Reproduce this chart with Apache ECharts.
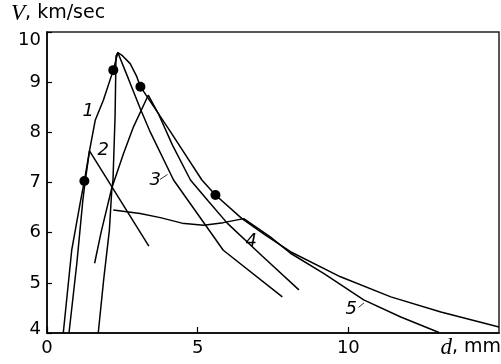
<!DOCTYPE html>
<html><head><meta charset="utf-8">
<script src="https://cdn.jsdelivr.net/npm/echarts@6/dist/echarts.min.js"></script>
<style>html,body{margin:0;padding:0;background:#fff}#c{width:501px;height:364px}</style>
</head><body><div id="c"></div>
<script>
const xTickLabels = ['0', '5', '10'];
const yTickLabels = ['4', '5', '6', '7', '8', '9', '10'];

const curve1 = [[0.54,4.00],[0.82,5.65],[1.10,6.59],[1.24,7.03],[1.41,7.63],[1.60,8.24],[1.87,8.64],[2.20,9.24],[2.35,9.59],
  [2.48,9.54],[2.76,9.37],[2.98,9.11],[3.10,8.91],[4.09,8.02],[5.14,7.05],[5.59,6.75],[6.47,6.28],[7.25,5.95],[8.08,5.62],
  [9.74,5.12],[11.41,4.72],[13.07,4.42],[15.0,4.12]];
const curve2 = [[0.73,4.00],[0.99,5.39],[1.19,6.65],[1.26,6.99],[1.41,7.63],[3.38,5.73]];
const curve3 = [[1.70,4.00],[1.88,5.06],[2.07,6.05],[2.15,6.85],[2.19,7.05],[2.26,8.34],[2.29,9.52],[2.35,9.59],
  [2.70,9.07],[3.09,8.48],[3.40,8.04],[4.20,7.05],[5.85,5.65],[7.81,4.72]];
const curve4 = [[1.58,5.39],[1.80,6.02],[2.15,6.89],[2.54,7.58],[2.87,8.11],[3.36,8.74],[3.69,8.38],[4.16,7.75],
  [4.76,7.05],[5.35,6.63],[5.98,6.19],[7.15,5.53],[8.36,4.86]];
const curve5 = [[2.20,6.45],[3.09,6.38],[3.76,6.30],[4.48,6.19],[5.20,6.15],[5.85,6.20],[6.53,6.28],[7.42,5.91],
  [8.08,5.59],[9.18,5.19],[10.51,4.66],[11.74,4.32],[13.01,4.01]];
const dots = [[1.24,7.03],[2.20,9.24],[3.10,8.91],[5.59,6.75]];
const curveLabels = [[1.37,8.41,'1'],[1.87,7.65,'2'],[3.59,7.05,'3'],[6.78,5.82,'4'],[10.10,4.48,'5']];
const leader3 = [[3.75,7.06],[4.0,7.16]];
const leader5 = [[10.34,4.51],[10.52,4.60]];

const SANS = 'DejaVu Sans';
const chart = echarts.init(document.getElementById('c'), null, {renderer: 'canvas'});

function lineSeries(data, w) {
  return {type: 'line', data: data, symbol: 'none', smooth: false, silent: true,
    lineStyle: {color: '#000', width: w || 1.5}, z: 3};
}

chart.setOption({
  animation: false,
  backgroundColor: '#fff',
  grid: {left: 47, right: 2, top: 32, bottom: 31, show: true, borderColor: '#222', borderWidth: 1.5},
  xAxis: {
    type: 'value', min: 0, max: 15, interval: 5,
    axisLine: {show: true, lineStyle: {color: '#000', width: 1.5}},
    axisTick: {show: true, inside: true, length: 6, lineStyle: {color: '#000', width: 1.2}},
    splitLine: {show: false},
    axisLabel: {showMaxLabel: false, color: '#000', fontFamily: SANS, fontSize: 18, margin: 6,
      formatter: v => { const i = v / 5; return xTickLabels[i] !== undefined ? xTickLabels[i] : ''; }}
  },
  yAxis: {
    type: 'value', min: 4, max: 10, interval: 1,
    axisLine: {show: true, lineStyle: {color: '#000', width: 1.5}},
    axisTick: {show: true, inside: true, length: 5, lineStyle: {color: '#000', width: 1.2}},
    splitLine: {show: false},
    axisLabel: {color: '#000', fontFamily: SANS, fontSize: 18, margin: 6,
      formatter: v => {
        const s = yTickLabels[v - 4];
        if (v === 10) return '{t|' + s + '}';
        if (v === 4) return '{b|' + s + '}';
        return s;
      },
      rich: {
        t: {fontFamily: SANS, fontSize: 18, color: '#000', padding: [16, 0, 0, 0]},
        b: {fontFamily: SANS, fontSize: 18, color: '#000', padding: [0, 0, 8, 0]}
      }
    }
  },
  graphic: [
    {type: 'text', left: 11, top: 2, style: {
      text: '{v|V}{s|, km/sec}',
      rich: {
        v: {fontFamily: 'Liberation Serif', fontStyle: 'italic', fontSize: 23, fill: '#000'},
        s: {fontFamily: SANS, fontSize: 19, fill: '#000'}
      }}},
    {type: 'text', right: 0, top: 336, style: {
      text: '{v|d}{s|, mm}',
      rich: {
        v: {fontFamily: 'Liberation Serif', fontStyle: 'italic', fontSize: 23, fill: '#000'},
        s: {fontFamily: SANS, fontSize: 19, fill: '#000'}
      }}}
  ],
  series: [
    lineSeries(curve1), lineSeries(curve2), lineSeries(curve3), lineSeries(curve4), lineSeries(curve5),
    lineSeries(leader3, 0.8), lineSeries(leader5, 0.8),
    {type: 'scatter', data: dots, symbol: 'circle', symbolSize: 10, itemStyle: {color: '#000', opacity: 1}, silent: true, z: 4},
    {type: 'scatter', data: curveLabels, symbolSize: 0, silent: true, z: 5, itemStyle: {opacity: 1},
      label: {show: true, position: 'inside', formatter: p => p.data[2], color: '#000', opacity: 1,
        fontFamily: SANS, fontStyle: 'italic', fontSize: 18}}
  ]
});
</script>
</body></html>
